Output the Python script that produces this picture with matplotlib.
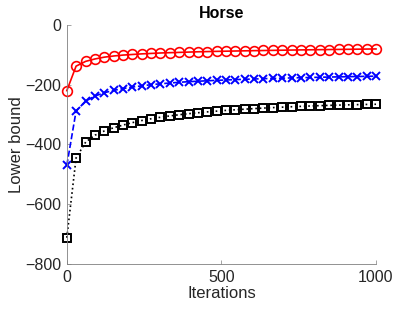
import matplotlib
matplotlib.use("Agg")
import matplotlib.pyplot as plt
import numpy as np

# Iteraties waarop de markers staan (34 punten van 0 tot 1000)
iters = np.round(np.linspace(0, 1000, 34))

rood = [-220, -138, -122, -114, -108, -104, -101, -99, -97, -95.5, -94, -93, -92, -91,
        -90, -89.3, -88.6, -88, -87.4, -86.8, -86.2, -85.7, -85.2, -84.7, -84.2, -83.7,
        -83.3, -82.9, -82.5, -82.1, -81.7, -81.3, -80.9, -80.5]
blauw = [-470, -288, -255, -238, -227, -219, -213, -208, -204, -200, -197, -194.5, -192,
         -190, -188.5, -187, -185.5, -184.3, -183, -182, -181, -180, -179, -178.2, -177.4,
         -176.6, -175.9, -175.2, -174.5, -173.9, -173.3, -172.7, -172.1, -171.5]
zwart = [-712, -445, -392, -369, -355, -344, -335, -327, -320, -314, -309, -304.5, -300.5,
         -297, -294, -291, -288.5, -286, -284, -282, -280, -278.3, -276.7, -275.2, -273.8,
         -272.5, -271.3, -270.2, -269.2, -268.3, -267.5, -266.8, -266.1, -265.5]

xticks = [0, 500, 1000]
yticks = [-800, -600, -400, -200, 0]

plt.rcParams['font.family'] = ['Liberation Sans', 'DejaVu Sans']

fig = plt.figure(figsize=(4.15, 3.11), dpi=100)
ax = fig.add_axes([0.161, 0.151, 0.745, 0.769])

ax.plot(iters, rood, color='red', linestyle='-', marker='o', markersize=7,
        markerfacecolor='none', markeredgewidth=1.2, linewidth=1.2, clip_on=False)
ax.plot(iters, blauw, color='blue', linestyle='--', marker='x', markersize=5.5,
        markeredgewidth=1.4, linewidth=1.2, clip_on=False)
ax.plot(iters, zwart, color='black', linestyle=':', marker='s', markersize=5.5,
        markerfacecolor='none', markeredgewidth=1.4, linewidth=1.2, clip_on=False)

ax.set_xlim(0, 1000)
ax.set_ylim(-800, 0)
ax.set_xticks(xticks)
ax.set_yticks(yticks)

tekstkleur = '#262626'
ax.spines['top'].set_visible(False)
ax.spines['right'].set_visible(False)
for kant in ['left', 'bottom']:
    ax.spines[kant].set_color('#808080')
    ax.spines[kant].set_linewidth(0.6)
ax.tick_params(direction='in', length=3, width=0.5, color='#808080',
               labelsize=11.5, labelcolor=tekstkleur, pad=4)

ax.set_title('Horse', fontsize=11.5, fontweight='bold', color='black', pad=5)
ax.set_xlabel('Iterations', fontsize=12, color=tekstkleur, labelpad=1)
ax.set_ylabel('Lower bound', fontsize=12, color=tekstkleur, labelpad=1)

fig.savefig('out.png', dpi=100)
